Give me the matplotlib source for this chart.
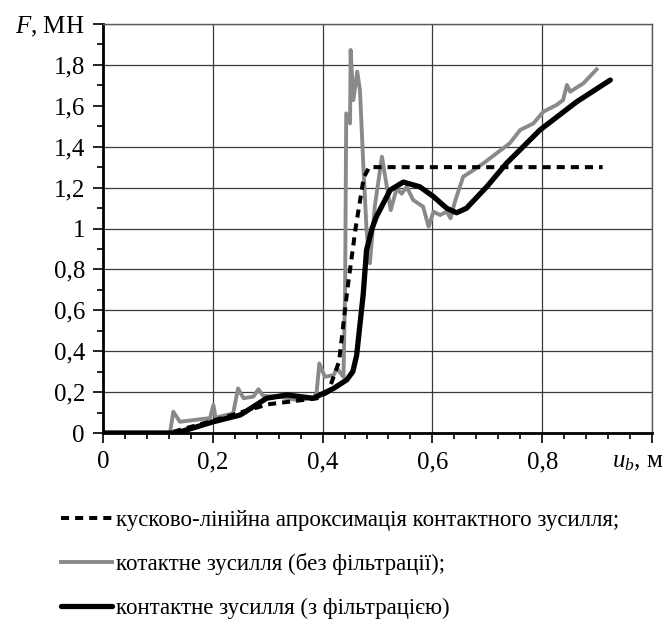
import numpy as np
import matplotlib
matplotlib.use("Agg")
import matplotlib.pyplot as plt
import matplotlib.transforms as mtransforms
from matplotlib.ticker import MultipleLocator

plt.rcParams['font.family'] = 'serif'
plt.rcParams['font.serif'] = ['Liberation Serif', 'DejaVu Serif']
plt.rcParams['mathtext.fontset'] = 'custom'
plt.rcParams['mathtext.rm'] = 'Liberation Serif'
plt.rcParams['mathtext.it'] = 'Liberation Serif:italic'

# piecewise-linear approximation
approx_x = [0.0, 0.12, 0.2, 0.3, 0.39, 0.41, 0.43, 0.445, 0.46, 0.475, 0.485, 0.91]
approx_y = [0.0, 0.0, 0.06, 0.14, 0.17, 0.2, 0.35, 0.7, 1.0, 1.25, 1.3, 1.3]

# contact force, raw
raw_x = [0.0, 0.122, 0.128, 0.14, 0.195, 0.201, 0.205, 0.237, 0.246, 0.256, 0.274,
         0.283, 0.292, 0.322, 0.353, 0.383, 0.389, 0.394, 0.404, 0.42, 0.426, 0.438,
         0.441, 0.443, 0.45, 0.451, 0.456, 0.463, 0.468, 0.474, 0.48, 0.486, 0.495,
         0.508, 0.517, 0.524, 0.535, 0.544, 0.553, 0.565, 0.583, 0.593, 0.602, 0.614,
         0.626, 0.633, 0.641, 0.656, 0.675, 0.693, 0.717, 0.741, 0.76, 0.784, 0.802,
         0.826, 0.838, 0.845, 0.851, 0.875, 0.899]
raw_y = [0.0, 0.0, 0.104, 0.055, 0.073, 0.137, 0.075, 0.096, 0.218, 0.17, 0.178,
         0.214, 0.181, 0.177, 0.161, 0.17, 0.196, 0.34, 0.275, 0.283, 0.316, 0.275,
         0.715, 1.563, 1.514, 1.873, 1.628, 1.767, 1.677, 1.319, 0.993, 0.83, 1.107,
         1.351, 1.204, 1.09, 1.196, 1.17, 1.204, 1.139, 1.107, 1.009, 1.082, 1.066,
         1.082, 1.05, 1.131, 1.253, 1.286, 1.319, 1.368, 1.417, 1.482, 1.514, 1.571,
         1.604, 1.628, 1.702, 1.669, 1.71, 1.778]

# contact force, filtered
filt_x = [0.0, 0.134, 0.201, 0.25, 0.298, 0.335, 0.383, 0.42, 0.444, 0.455, 0.462,
          0.474, 0.48, 0.49, 0.498, 0.523, 0.547, 0.577, 0.602, 0.626, 0.644, 0.662,
          0.699, 0.735, 0.796, 0.863, 0.924]
filt_y = [0.0, 0.0, 0.055, 0.088, 0.17, 0.186, 0.17, 0.218, 0.26, 0.3, 0.38,
          0.68, 0.895, 1.0, 1.058, 1.188, 1.227, 1.204, 1.156, 1.099, 1.077, 1.099,
          1.204, 1.319, 1.482, 1.62, 1.726]

labels = ['кусково-лінійна апроксимація контактного зусилля;',
          'котактне зусилля (без фільтрації);',
          'контактне зусилля (з фільтрацією)']

x_ticks = [0, 0.2, 0.4, 0.6, 0.8, 1.0]
x_ticklabels = ['0', '0,2', '0,4', '0,6', '0,8', '$u_b$, м']
y_ticks = [0, 0.2, 0.4, 0.6, 0.8, 1.0, 1.2, 1.4, 1.6, 1.8, 2.0]
y_ticklabels = ['0', '0,2', '0,4', '0,6', '0,8', '1', '1,2', '1,4', '1,6', '1,8', '$F$, МН']

fig = plt.figure(figsize=(6.69, 6.25), dpi=100)
ax = fig.add_axes([0.154, 0.3072, 0.8206, 0.6544])

l1, = ax.plot(approx_x, approx_y, color='black', lw=2.9, ls=(0, (2.0, 1.5)), zorder=4)
l2, = ax.plot(raw_x, raw_y, color='#8a8a8a', lw=2.8, zorder=3)
l3, = ax.plot(filt_x, filt_y, color='black', lw=3.8, zorder=5, solid_capstyle='round')

ax.set_xlim(0, 1.0)
ax.set_ylim(0, 2.0)
ax.set_xticks(x_ticks)
ax.set_xticklabels(x_ticklabels)
ax.set_yticks(y_ticks)
ax.set_yticklabels(y_ticklabels)
ax.xaxis.set_minor_locator(MultipleLocator(0.04))
ax.yaxis.set_minor_locator(MultipleLocator(0.1))
ax.tick_params(which='major', length=7, width=1.2, labelsize=18, direction='out', pad=6)
ax.tick_params(which='minor', length=4, width=1.2, direction='out')

# shift the axis-name label on x to sit inside the figure
lab = ax.get_xticklabels()[-1]
lab.set_transform(lab.get_transform() + mtransforms.ScaledTranslation(-0.14, 0, fig.dpi_scale_trans))

ax.grid(True, which='major', color='#3a3a3a', lw=0.9)
# the 1,6 gridline is missing in the original
ax.yaxis.get_gridlines()[8].set_visible(False)

for s in ['left', 'bottom']:
    ax.spines[s].set_linewidth(2.0)
    ax.spines[s].set_color('black')
for s in ['top', 'right']:
    ax.spines[s].set_linewidth(1.0)
    ax.spines[s].set_color('#5a5a5a')

fig.legend([l1, l2, l3], labels, loc='upper left', bbox_to_anchor=(0.078, 0.198),
           frameon=False, fontsize=16.5, handlelength=2.2, handletextpad=0.2,
           labelspacing=0.96, borderaxespad=0)

fig.savefig('out.png', dpi=100, facecolor='white')
